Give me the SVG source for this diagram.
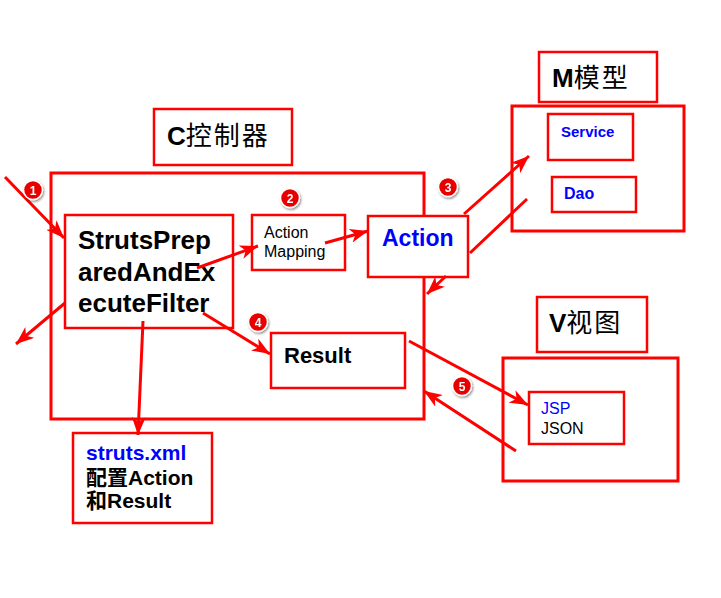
<svg xmlns="http://www.w3.org/2000/svg" width="721" height="598" viewBox="0 0 721 598">
<style>
.box{fill:none;stroke:#ff0000;stroke-width:2.5}
.big{fill:none;stroke:#ff0000;stroke-width:3}
.wbox{fill:#ffffff;stroke:#ff0000;stroke-width:2.5}
.ln{fill:none;stroke:#ff0000;stroke-width:3;marker-end:url(#ah)}
.pl{fill:none;stroke:#ff0000;stroke-width:3}
.lat{font-family:"Liberation Sans",Arial,sans-serif}
.cjk{font-family:"Liberation Sans","Noto Sans CJK SC",sans-serif}
.b{font-weight:bold}
.blue{fill:#0000ff}
.blk{fill:#000000}
.hz{letter-spacing:2px;font-weight:normal}
.badge circle{fill:#e80000;stroke:#ffffff;stroke-width:1.5}
.badge text{font-family:"Liberation Sans",Arial,sans-serif;font-weight:bold;font-size:12px;fill:#ffffff;text-anchor:middle}
</style>
<defs>
<marker id="ah" markerUnits="userSpaceOnUse" markerWidth="20" markerHeight="14" refX="18" refY="7" orient="auto">
<path d="M0,0 L18,7 L0,14 L5,7 z" fill="#ff0000"/>
</marker>
<filter id="sh" x="-50%" y="-50%" width="200%" height="200%">
<feDropShadow dx="1" dy="1.5" stdDeviation="1.2" flood-color="#000" flood-opacity="0.45"/>
</filter>
</defs>
<rect width="721" height="598" fill="#ffffff"/>

<g id="controller">
<rect class="big" x="51" y="173" width="373" height="246"/>
</g>
<g id="controller-label">
<rect class="box" x="154" y="109" width="138" height="56"/>
<text x="167" y="145" font-size="26" class="cjk blk"><tspan class="b">C</tspan><tspan class="hz">控制器</tspan></text>
</g>
<g id="model">
<rect class="big" x="512" y="106" width="172" height="125"/>
</g>
<g id="model-label">
<rect class="box" x="539" y="52" width="118" height="50"/>
<text x="552" y="87" font-size="26" class="cjk blk"><tspan class="b">M</tspan><tspan class="hz">模型</tspan></text>
</g>
<g id="service">
<rect class="box" x="548" y="114" width="85" height="46"/>
<text x="561" y="137" font-size="15" class="lat b blue">Service</text>
</g>
<g id="dao">
<rect class="box" x="552" y="177" width="84" height="35"/>
<text x="564" y="199" font-size="16" class="lat b blue">Dao</text>
</g>
<g id="view">
<rect class="big" x="503" y="358" width="175" height="123"/>
</g>
<g id="view-label">
<rect class="box" x="537" y="297" width="110" height="55"/>
<text x="549" y="332" font-size="26" class="cjk blk"><tspan class="b">V</tspan><tspan class="hz">视图</tspan></text>
</g>
<g id="jsp">
<rect class="box" x="529" y="392" width="95" height="52"/>
<text x="541" y="414" font-size="16" class="lat blue">JSP</text>
<text x="541" y="434" font-size="16" class="lat blk">JSON</text>
</g>
<g id="filter">
<rect class="box" x="65" y="215" width="168" height="113"/>
<text x="78" y="249" font-size="26" class="lat b blk">StrutsPrep</text>
<text x="78" y="281" font-size="26" class="lat b blk">aredAndEx</text>
<text x="78" y="312" font-size="26" class="lat b blk">ecuteFilter</text>
</g>
<g id="action-mapping">
<rect class="box" x="252" y="215" width="93" height="55"/>
<text x="264" y="238" font-size="16" class="lat blk">Action</text>
<text x="264" y="257" font-size="16" class="lat blk">Mapping</text>
</g>
<g id="action">
<rect class="wbox" x="368" y="216" width="100" height="61"/>
<text x="382" y="246" font-size="23" class="lat b blue">Action</text>
</g>
<g id="result">
<rect class="box" x="271" y="333" width="134" height="55"/>
<text x="284" y="363" font-size="22" class="lat b blk">Result</text>
</g>
<g id="struts-xml">
<rect class="box" x="73" y="433" width="139" height="90"/>
<text x="86" y="460" font-size="21" class="lat b blue">struts.xml</text>
<text x="86" y="485" font-size="21" class="cjk b blk">配置Action</text>
<text x="86" y="508" font-size="21" class="cjk b blk">和Result</text>
</g>

<g id="connectors">
<path class="ln" d="M5,177 L64,238"/>
<path class="ln" d="M65,303 L16,344"/>
<path class="ln" d="M197,268 L258,246"/>
<path class="ln" d="M325,243 L368,231"/>
<path class="ln" d="M464,214 L529,156"/>
<path class="pl" d="M527,199 L470,253"/>
<path class="ln" d="M446,276 L427,294"/>
<path class="ln" d="M203,313 L270,354"/>
<path class="ln" d="M143,321 L138,435"/>
<path class="ln" d="M409,341 L528,405"/>
<path class="ln" d="M516,451 L424,391"/>
</g>

<g id="badges">
<g class="badge" filter="url(#sh)"><circle cx="33" cy="190" r="9.5"/><text x="33" y="194.5">1</text></g>
<g class="badge" filter="url(#sh)"><circle cx="290" cy="198" r="9.5"/><text x="290" y="202.5">2</text></g>
<g class="badge" filter="url(#sh)"><circle cx="448" cy="187" r="9.5"/><text x="448" y="191.5">3</text></g>
<g class="badge" filter="url(#sh)"><circle cx="258" cy="322" r="9.5"/><text x="258" y="326.5">4</text></g>
<g class="badge" filter="url(#sh)"><circle cx="462" cy="386" r="9.5"/><text x="462" y="390.5">5</text></g>
</g>
</svg>
